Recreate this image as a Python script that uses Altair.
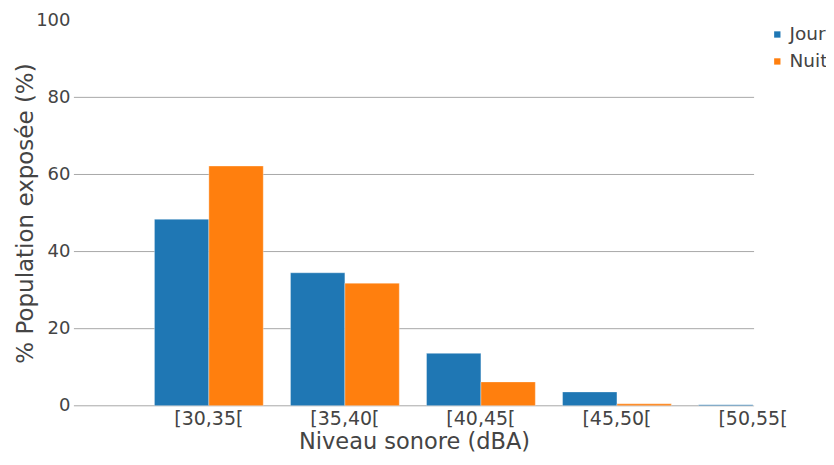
import altair as alt
import pandas as pd

categories = ["[30,35[", "[35,40[", "[40,45[", "[45,50[", "[50,55["]
jour = [48.4, 34.5, 13.6, 3.6, 0.3]
nuit = [62.2, 31.8, 6.2, 0.5, 0.0]
series = ["Jour", "Nuit"]
colors = ["#1f77b4", "#ff7f0e"]
grid_values = [0, 20, 40, 60, 80]
tick_values = [0, 20, 40, 60, 80, 100]

rows = []
for c, j, n in zip(categories, jour, nuit):
    rows.append({"cat": c, "serie": "Jour", "val": j})
    rows.append({"cat": c, "serie": "Nuit", "val": n})
df = pd.DataFrame(rows)

FONT = "DejaVu Sans"
W, H = 681, 386
yscale = alt.Scale(domain=[0, 100], nice=False)
yaxis = alt.Axis(title="% Population exposée (%)", values=tick_values,
                 ticks=False, domain=False, labelFontSize=18, labelColor="#444",
                 labelPadding=4, titleFontSize=23, titleFontWeight="normal",
                 titleColor="#444", titlePadding=-2, labelFont=FONT, titleFont=FONT,
                 grid=False)

grid = alt.Chart(pd.DataFrame({"v": grid_values})).mark_rule(color="#a8a8a8", strokeWidth=1).encode(
    y=alt.Y("v:Q", scale=yscale, axis=yaxis),
    x=alt.value(0), x2=alt.value(W),
)

bars = alt.Chart(df).mark_bar(clip=True, stroke="white", strokeOpacity=0.35, strokeWidth=1).encode(
    x=alt.X("cat:N", sort=categories,
            scale=alt.Scale(domain=categories, range=[67, 748], paddingInner=0.2, paddingOuter=0.1),
            axis=alt.Axis(title="Niveau sonore (dBA)", labelAngle=0, ticks=False, domain=False,
                          labelFontSize=19, labelColor="#444", labelPadding=4,
                          titleFontSize=22.5, titleFontWeight="normal", titleColor="#444",
                          titlePadding=2, titleX=W / 2, titleAlign="center",
                          labelFont=FONT, titleFont=FONT, grid=False)),
    xOffset=alt.XOffset("serie:N", sort=series),
    y=alt.Y("val:Q", scale=yscale, axis=yaxis),
    color=alt.Color("serie:N", sort=series,
                    scale=alt.Scale(domain=series, range=colors),
                    legend=alt.Legend(title=None, orient="none", legendX=695, legendY=5,
                                      symbolType="square", symbolSize=40, symbolStrokeWidth=0,
                                      labelFontSize=18.5, labelFont=FONT, labelColor="#444",
                                      rowPadding=8, labelOffset=3)),
)

chart = alt.layer(grid, bars).properties(
    width=W, height=H,
    autosize=alt.AutoSizeParams(type="none"),
    padding={"left": 66, "top": 12, "right": 72, "bottom": 51},
).configure(font=FONT).configure_view(stroke=None)

chart.save("out.html", embed_options={"renderer": "svg", "actions": False})
